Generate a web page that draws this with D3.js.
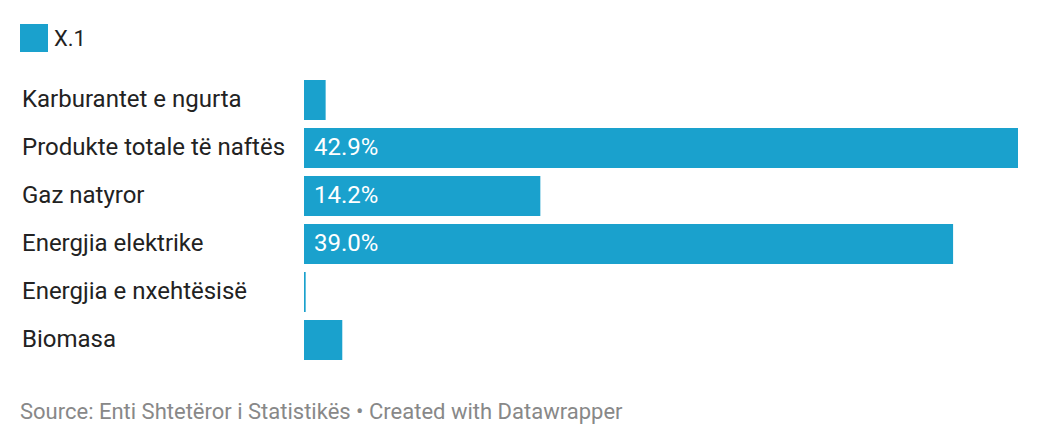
<!DOCTYPE html>
<html><head><meta charset="utf-8">
<script src="https://cdn.jsdelivr.net/npm/d3@7"></script>
<style>body{margin:0;background:#fff;}svg{display:block;font-family:Roboto,sans-serif;}</style>
</head><body><svg id="c" width="1040" height="446"></svg>
<script>
const categories = ["Karburantet e ngurta","Produkte totale të naftës","Gaz natyror","Energjia elektrike","Energjia e nxehtësisë","Biomasa"];
const values = [1.3, 42.9, 14.2, 39.0, 0.1, 2.3];
const seriesName = "X.1";
const source = "Source: Enti Shtetëror i Statistikës • Created with Datawrapper";
const color = "#1aa1cd";

const svg = d3.select("#c");
const x = d3.scaleLinear().domain([0, 42.9]).range([304, 1018]);
const y = d3.scaleBand().domain(categories).range([80, 80 + 48*6 - 8]).paddingInner(1/6).paddingOuter(0);

// legend
svg.append("rect").attr("x",20).attr("y",24).attr("width",28).attr("height",28).attr("fill",color);
svg.append("text").attr("x",54).attr("y",46).attr("font-size",22).attr("fill","#222").text(seriesName);

const rows = svg.append("g").selectAll("g").data(categories).join("g");
rows.append("text").attr("x",22).attr("y",c=>y(c)+y.bandwidth()/2).attr("dy","0.3em")
  .attr("font-size",24).attr("fill","#222").text(c=>c);
rows.append("rect").attr("x",x(0)).attr("y",c=>y(c)).attr("height",y.bandwidth())
  .attr("width",(c,i)=>x(values[i])-x(0)).attr("fill",color);
rows.filter((c,i)=>values[i]>=10).append("text").attr("x",x(0)+10)
  .attr("y",c=>y(c)+y.bandwidth()/2).attr("dy","0.3em").attr("font-size",24).attr("fill","#fff")
  .text(c=>d3.format(".1f")(values[categories.indexOf(c)])+"%");

svg.append("text").attr("x",20).attr("y",419).attr("font-size",22).attr("fill","#888").text(source);
</script></body></html>
